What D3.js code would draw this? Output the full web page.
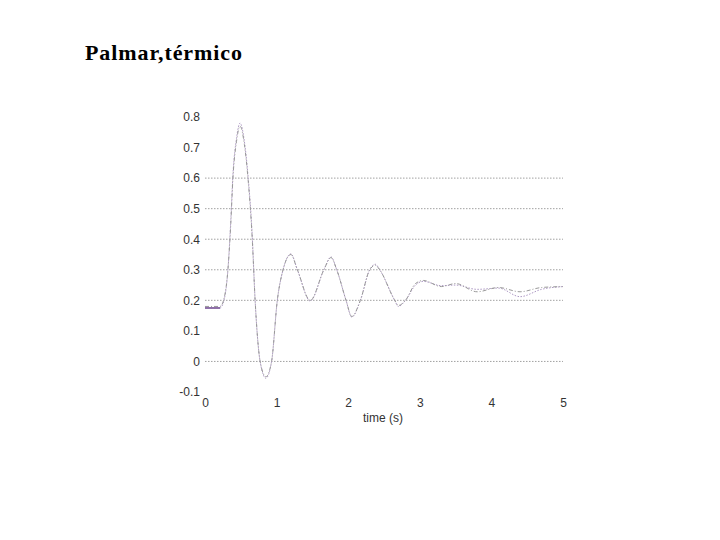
<!DOCTYPE html>
<html><head><meta charset="utf-8">
<script src="https://cdn.jsdelivr.net/npm/d3@7"></script>
<style>body{margin:0;background:#fff}</style>
</head><body>
<svg id="c" width="720" height="540"></svg>
<script>
const title = "Palmar,térmico";
const xLabel = "time (s)";
const xTicks = [0, 1, 2, 3, 4, 5];
const yTicks = [-0.1, 0, 0.1, 0.2, 0.3, 0.4, 0.5, 0.6, 0.7, 0.8];
const gridValues = [0, 0.2, 0.3, 0.4, 0.5, 0.6];

const tA = [0,0.21,0.27,0.32,0.36,0.39,0.44,0.49,0.55,0.60,0.66,0.70,0.77,0.85,0.93,1.01,1.09,1.20,1.29,1.47,1.66,1.76,1.84,1.97,2.05,2.17,2.30,2.38,2.44,2.65,2.70,2.80,2.94,3.05,3.30,3.50,3.80,4.10,4.40,4.70,5.00];
const vA = [0.18,0.18,0.21,0.30,0.45,0.60,0.72,0.77,0.71,0.60,0.40,0.20,0.00,-0.05,0.00,0.20,0.30,0.35,0.30,0.20,0.30,0.34,0.30,0.20,0.147,0.20,0.30,0.315,0.30,0.20,0.183,0.20,0.255,0.265,0.245,0.255,0.228,0.242,0.228,0.242,0.245];
const tB = [0,0.21,0.27,0.32,0.36,0.39,0.44,0.49,0.55,0.60,0.66,0.70,0.77,0.85,0.93,1.01,1.09,1.20,1.29,1.47,1.66,1.76,1.84,1.97,2.05,2.17,2.30,2.38,2.44,2.65,2.70,2.80,2.94,3.05,3.30,3.50,3.80,4.10,4.40,4.70,5.00];
const vB = [0.175,0.175,0.205,0.30,0.46,0.61,0.73,0.78,0.72,0.61,0.41,0.20,0.00,-0.055,0.00,0.20,0.30,0.352,0.30,0.198,0.30,0.342,0.30,0.20,0.145,0.20,0.30,0.318,0.30,0.20,0.18,0.20,0.25,0.262,0.248,0.25,0.236,0.24,0.212,0.236,0.245];

const svg = d3.select("#c");
const x = d3.scaleLinear().domain([0, 5]).range([205, 563]);
const y = d3.scaleLinear().domain([-0.1, 0.8]).range([392, 117]);

svg.append("text").attr("x", 85).attr("y", 60)
  .attr("font-family", "Liberation Serif, Times New Roman, serif")
  .attr("font-weight", "bold").attr("font-size", 22).attr("letter-spacing", 0.9)
  .attr("fill", "#000").text(title);

// gridlines
svg.append("g").selectAll("line").data(gridValues).join("line")
  .attr("x1", x(0)).attr("x2", x(5))
  .attr("y1", d => y(d)).attr("y2", d => y(d))
  .attr("stroke", "#8a8a8a").attr("stroke-width", 0.8)
  .attr("stroke-dasharray", "1.5,1.5");

const fmt = d => d === 0 ? "0" : d3.format(".1f")(d).replace("−", "-");
const yAxis = d3.axisLeft(y).tickValues(yTicks).tickSize(0).tickPadding(4).tickFormat(fmt);
const gy = svg.append("g").attr("transform", `translate(${x(0) - 1},0)`).call(yAxis);
gy.select(".domain").remove();
gy.selectAll("text").attr("font-family", "Liberation Sans, Arial, sans-serif")
  .attr("font-size", 12).attr("fill", "#333");

const xAxis = d3.axisBottom(x).tickValues(xTicks).tickSize(0).tickPadding(6)
  .tickFormat(d3.format("d"));
const gx = svg.append("g").attr("transform", `translate(0,${y(-0.1)})`).call(xAxis);
gx.select(".domain").remove();
gx.selectAll("text").attr("font-family", "Liberation Sans, Arial, sans-serif")
  .attr("font-size", 12).attr("fill", "#333");

svg.append("text").attr("x", 383).attr("y", 422).attr("text-anchor", "middle")
  .attr("font-family", "Liberation Sans, Arial, sans-serif")
  .attr("font-size", 12).attr("fill", "#333").text(xLabel);

const line = d3.line().x(d => x(d[0])).y(d => y(d[1])).curve(d3.curveMonotoneX);
const dataA = tA.map((t, i) => [t, vA[i]]);
const dataB = tB.map((t, i) => [t, vB[i]]);

svg.append("path").datum(dataB).attr("d", line)
  .attr("fill", "none").attr("stroke", "#ad98c4").attr("stroke-width", 1)
  .attr("stroke-dasharray", "1.5,1.5");
svg.append("path").datum(dataA).attr("d", line)
  .attr("fill", "none").attr("stroke", "#999").attr("stroke-width", 1)
  .attr("stroke-dasharray", "4,2,1,2");
// solid initial purple segment
svg.append("path").datum(dataB.slice(0, 2)).attr("d", line)
  .attr("fill", "none").attr("stroke", "#8e6fa8").attr("stroke-width", 2);
</script>
</body></html>
